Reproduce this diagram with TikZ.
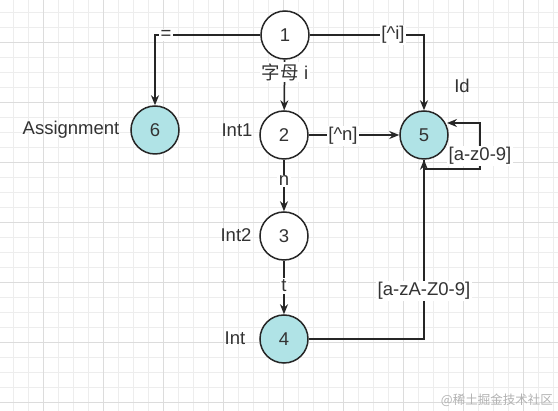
\documentclass[tikz,border=0pt]{standalone}
\usepackage{fontspec}
\setmainfont{Liberation Sans}
\newfontfamily\cjk{Noto Sans CJK SC}
\usetikzlibrary{arrows.meta}
\definecolor{tealfill}{HTML}{B0E3E6}
\definecolor{ink}{HTML}{262626}
\definecolor{txt}{HTML}{333333}
\definecolor{gridminor}{HTML}{EDEDED}
\definecolor{gridmajor}{HTML}{DCDCDC}
\begin{document}
\begin{tikzpicture}[x=1pt,y=-1pt,
  state/.style={circle,draw=ink,line width=1.5pt,minimum size=48pt,inner sep=0pt,
    font=\fontsize{18.5}{20}\selectfont,text=txt,fill=white},
  accept/.style={state,fill=tealfill},
  tag/.style={font=\fontsize{18.5}{20}\selectfont,text=txt,inner sep=0pt},
  elabel/.style={fill=white,font=\fontsize{18.5}{20}\selectfont,text=txt,inner sep=1.5pt},
  edge/.style={draw=ink,line width=1.5pt,-{Stealth[length=10pt,width=8pt]}},
]
\useasboundingbox (0,0) rectangle (558,411);
\fill[white] (0,0) rectangle (558,411);
% grid
\foreach \k in {0,...,36} {\draw[gridminor,line width=0.8pt] (13.7+15*\k,0) -- (13.7+15*\k,411);}
\foreach \k in {0,...,26} {\draw[gridminor,line width=0.8pt] (0,12.7+15*\k) -- (558,12.7+15*\k);}
\foreach \k in {0,...,8} {\draw[gridmajor,line width=0.8pt] (43.3+60*\k,0) -- (43.3+60*\k,411);}
\foreach \k in {0,...,6} {\draw[gridmajor,line width=0.8pt] (0,42.7+60*\k) -- (558,42.7+60*\k);}

% states
\node[state]  (n1) at (285,35)  {1};
\node[state]  (n2) at (284,135) {2};
\node[state]  (n3) at (284,236) {3};
\node[accept] (n4) at (284,339) {4};
\node[accept] (n5) at (424,135) {5};
\node[accept] (n6) at (155,130) {6};

% state tags
\node[tag] (tAssign) at (71,130) {Assignment};
\node[tag] (tInt1) at (237,130) {Int1};
\node[tag] (tInt2) at (236,235) {Int2};
\node[tag] (tInt) at (235,338) {Int};
\node[tag] (tId) at (462,86) {Id};

% edges
\draw[edge] (n1.west) -| (n6.north);
\node[elabel] (lEq) at (166,35) {=};
\draw[edge] (n1.east) -| (n5.north);
\node[elabel] (lNi) at (393,35) {[\textasciicircum i]};
\draw[edge] (n1) -- (n2);
\node[elabel] (lLetter) at (285,72) {{\cjk 字母} i};
\draw[edge] (n2) -- (n5);
\node[elabel] (lNn) at (343,136) {[\textasciicircum n]};
\draw[edge] (n2) -- (n3);
\node[elabel] (lN) at (284,181) {n};
\draw[edge] (n3) -- (n4);
\node[elabel] (lT) at (284,286) {t};
\draw[edge] (n4.east) -| (n5.south);
\node[elabel] (lAll) at (424,291) {[a-zA-Z0-9]};
% self loop
\coordinate (lb) at (424,169);
\coordinate (lc) at (480,123);
\coordinate (lt) at (447,123);
\draw[edge] (n5.south) -- (lb) -| (lc) -- (lt);
\node[elabel] (lLoop) at (480,156) {[a-z0-9]};

% watermark
\node[anchor=east,text=black!30,font=\cjk\fontsize{12.5}{14}\selectfont,inner sep=0pt] (wm) at (553,400) {@稀土掘金技术社区};
\end{tikzpicture}
\end{document}
